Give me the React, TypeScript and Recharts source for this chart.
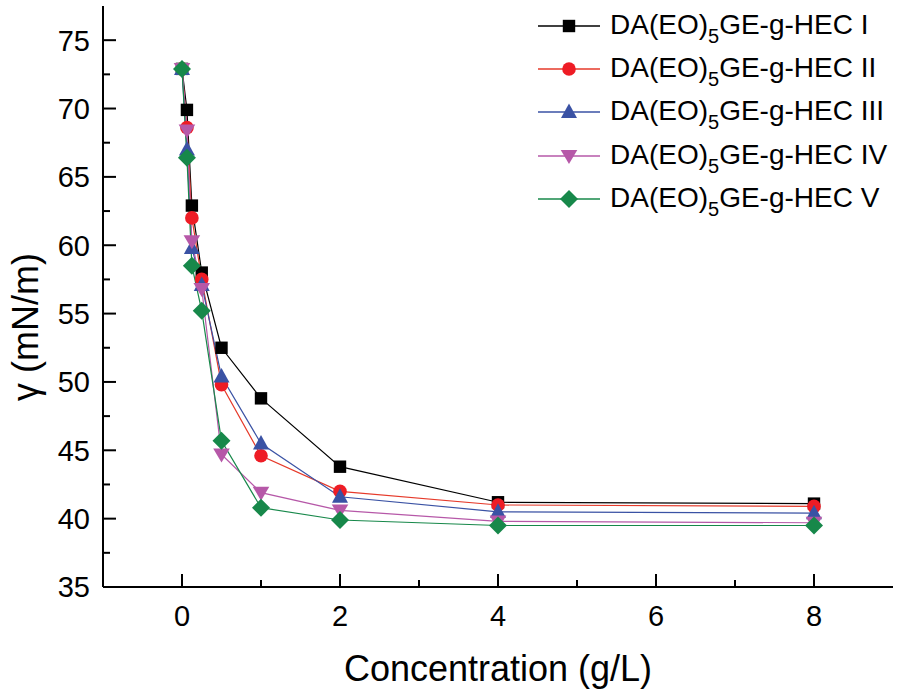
import React from 'react';
import { LineChart, Line, XAxis, YAxis, Legend } from 'recharts';

// ---- data ----
const concentration = [0, 0.0625, 0.125, 0.25, 0.5, 1, 2, 4, 8];
const seriesI = [72.9, 69.9, 62.9, 58.0, 52.5, 48.8, 43.8, 41.2, 41.1];
const seriesII = [72.9, 68.6, 62.0, 57.5, 49.8, 44.6, 42.0, 41.0, 40.9];
const seriesIII = [72.9, 67.0, 59.8, 57.1, 50.4, 45.5, 41.6, 40.5, 40.4];
const seriesIV = [72.9, 68.4, 60.3, 56.8, 44.7, 41.9, 40.6, 39.8, 39.7];
const seriesV = [72.9, 66.4, 58.5, 55.2, 45.7, 40.8, 39.9, 39.5, 39.5];
const seriesSuffix = ['I', 'II', 'III', 'IV', 'V'];
const xTicks = [0, 1, 2, 3, 4, 5, 6, 7, 8];
const xMajorLabels = [0, 2, 4, 6, 8];
const yTicks = [35, 37.5, 40, 42.5, 45, 47.5, 50, 52.5, 55, 57.5, 60, 62.5, 65, 67.5, 70, 72.5, 75];
const yMajorLabels = [35, 40, 45, 50, 55, 60, 65, 70, 75];
const xDomain = [-1, 9];
const yDomain = [35, 77.5];

const allSeries = [seriesI, seriesII, seriesIII, seriesIV, seriesV];
const keys = ['s1', 's2', 's3', 's4', 's5'];

const data = concentration.map((c, i) => {
  const row: Record<string, number> = { c };
  allSeries.forEach((s, k) => {
    row[keys[k]] = s[i];
  });
  return row;
});

// ---- styles ----
const FONT = '"Liberation Sans", Arial, Helvetica, sans-serif';
const STYLES = [
  { shape: 'square', fill: '#000000', stroke: '#000000' },
  { shape: 'circle', fill: '#ee1c25', stroke: '#e63a2a' },
  { shape: 'triangle', fill: '#3a52a4', stroke: '#3a52a4' },
  { shape: 'triangleDown', fill: '#b658a8', stroke: '#b658a8' },
  { shape: 'diamond', fill: '#17884a', stroke: '#17884a' },
];

function Marker({ shape, cx, cy, color }: { shape: string; cx: number; cy: number; color: string }) {
  switch (shape) {
    case 'square':
      return <rect x={cx - 6.2} y={cy - 6.2} width={12.4} height={12.4} fill={color} />;
    case 'circle':
      return <circle cx={cx} cy={cy} r={6.8} fill={color} />;
    case 'triangle':
      return <polygon points={`${cx},${cy - 8.5} ${cx + 8},${cy + 6} ${cx - 8},${cy + 6}`} fill={color} />;
    case 'triangleDown':
      return <polygon points={`${cx},${cy + 8} ${cx + 8.3},${cy - 6} ${cx - 8.3},${cy - 6}`} fill={color} />;
    case 'diamond':
      return <polygon points={`${cx},${cy - 9} ${cx + 9},${cy} ${cx},${cy + 9} ${cx - 9},${cy}`} fill={color} />;
    default:
      return null;
  }
}

const XTick = (props: any) => {
  const { x, y, payload } = props;
  const v = payload.value;
  const major = xMajorLabels.includes(v);
  return (
    <g>
      <line x1={x} x2={x} y1={y} y2={y - (major ? 13 : 7)} stroke="#000" strokeWidth={2} />
      {major && (
        <text x={x} y={y + 39} textAnchor="middle" fontSize={29} fontFamily={FONT} fill="#000">
          {v}
        </text>
      )}
    </g>
  );
};

const YTick = (props: any) => {
  const { x, y, payload } = props;
  const v = payload.value;
  const major = yMajorLabels.includes(v);
  return (
    <g>
      {v !== yDomain[0] && (
        <line x1={x} x2={x + (major ? 13 : 7)} y1={y} y2={y} stroke="#000" strokeWidth={2} />
      )}
      {major && (
        <text x={x - 13} y={y} dy="0.36em" textAnchor="end" fontSize={29} fontFamily={FONT} fill="#000">
          {v}
        </text>
      )}
    </g>
  );
};

const renderLegend = () => (
  <div style={{ fontFamily: FONT, color: '#000' }}>
    {seriesSuffix.map((suf, i) => (
      <div key={suf} style={{ display: 'flex', alignItems: 'center', height: 43.2 }}>
        <svg width={72} height={30} style={{ display: 'block', flex: 'none' }}>
          <line x1={0} x2={62} y1={15} y2={15} stroke={STYLES[i].stroke} strokeWidth={1.3} />
          <Marker shape={STYLES[i].shape} cx={31} cy={15} color={STYLES[i].fill} />
        </svg>
        <span style={{ fontSize: 28, lineHeight: '30px', whiteSpace: 'nowrap' }}>
          DA(EO)
          <span style={{ fontSize: 20, position: 'relative', top: 9 }}>5</span>
          GE-g-HEC {suf}
        </span>
      </div>
    ))}
  </div>
);

export default function App() {
  return (
    <div style={{ position: 'absolute', left: 0, top: 0, width: 900, height: 695, background: '#fff' }}>
      <LineChart
        width={900}
        height={695}
        data={data}
        margin={{ top: 6, right: 7, left: 0, bottom: 0 }}
      >
        <XAxis
          dataKey="c"
          type="number"
          domain={xDomain}
          ticks={xTicks}
          interval={0}
          allowDataOverflow
          height={108}
          tickSize={0}
          tickMargin={0}
          tick={<XTick />}
          axisLine={{ stroke: '#000', strokeWidth: 2 }}
          label={(p: any) => {
            const vb = p.viewBox;
            return (
              <text
                x={vb.x + vb.width / 2}
                y={681}
                textAnchor="middle"
                fontSize={36}
                fontFamily={FONT}
                fill="#000"
              >
                Concentration (g/L)
              </text>
            );
          }}
        />
        <XAxis
          xAxisId="top"
          orientation="top"
          type="number"
          domain={xDomain}
          height={0}
          tick={false}
          tickLine={false}
          axisLine={{ stroke: '#000', strokeWidth: 2 }}
        />
        <YAxis
          type="number"
          domain={yDomain}
          ticks={yTicks}
          interval={0}
          allowDataOverflow
          width={103}
          tickSize={0}
          tickMargin={0}
          tick={<YTick />}
          axisLine={{ stroke: '#000', strokeWidth: 2 }}
          label={(p: any) => {
            const cx = 25;
            const cy = 327;
            return (
              <text
                x={cx}
                y={cy}
                transform={`rotate(-90 ${cx} ${cy})`}
                textAnchor="middle"
                dominantBaseline="central"
                fontSize={36}
                fontFamily={FONT}
                fill="#000"
              >
                γ (mN/m)
              </text>
            );
          }}
        />
        <YAxis
          yAxisId="right"
          orientation="right"
          type="number"
          domain={yDomain}
          width={0}
          tick={false}
          tickLine={false}
          axisLine={{ stroke: '#000', strokeWidth: 2 }}
        />
        <Legend
          layout="vertical"
          align="center"
          verticalAlign="middle"
          content={renderLegend}
          wrapperStyle={{ left: 538, top: 4.5, width: 360, height: 220 }}
        />
        {keys.map((k, i) => (
          <Line
            key={k}
            dataKey={k}
            type="linear"
            stroke={STYLES[i].stroke}
            strokeWidth={1.2}
            isAnimationActive={false}
            dot={(p: any) => (
              <Marker key={`${k}-${p.index}`} shape={STYLES[i].shape} cx={p.cx} cy={p.cy} color={STYLES[i].fill} />
            )}
            activeDot={false}
          />
        ))}
      </LineChart>
    </div>
  );
}
